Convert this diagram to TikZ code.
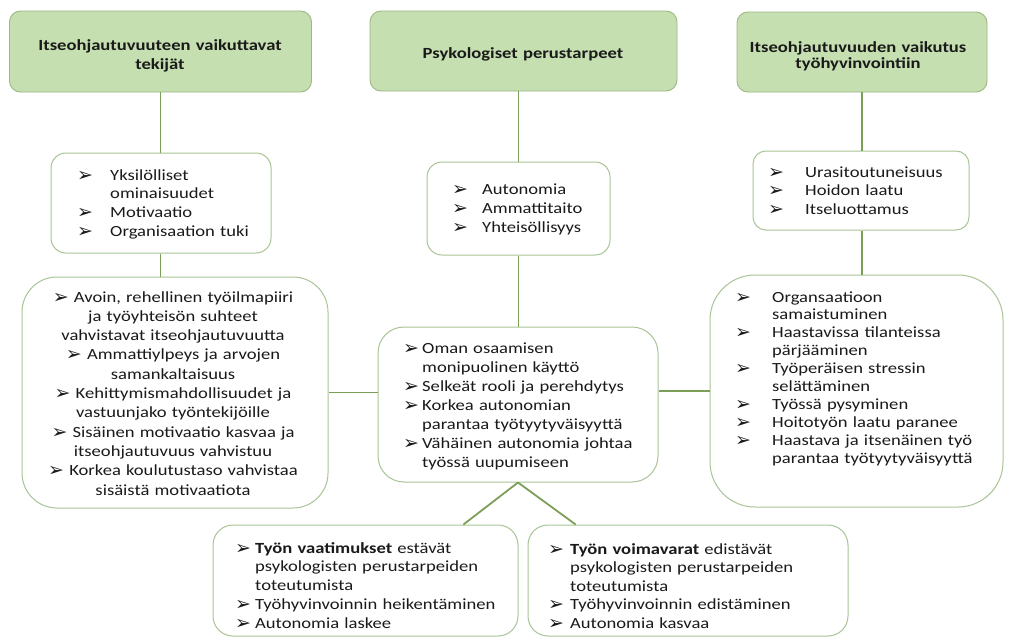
\documentclass[tikz,border=0pt]{standalone}
\usepackage{fontspec}
\setmainfont{Carlito}[FakeStretch=1.2]
\newfontfamily\arrowfont{DejaVu Sans}
\usetikzlibrary{calc}
\definecolor{hdrfill}{HTML}{C5DFB1}
\definecolor{hdrdraw}{HTML}{9DB884}
\definecolor{boxdraw}{HTML}{A9C496}
\definecolor{conn}{HTML}{7C9F58}
\definecolor{txt}{HTML}{1A1A1A}
\newcommand\arw{\raisebox{-1pt}{\fontsize{19}{19}\arrowfont\char"27A2}}
\newcommand\bu[1]{\makebox[#1pt][l]{\arw}}
\newcommand\ind[1]{\hspace*{#1pt}}
\newcommand\bc{\arw\ }
\begin{document}
\begin{tikzpicture}[x=1pt,y=-1pt,
  hdr/.style={draw=hdrdraw, fill=hdrfill, line width=0.9pt, inner sep=0pt},
  box/.style={draw=boxdraw, fill=white, line width=1pt, inner sep=0pt},
  txtl/.style={inner sep=0pt, text=txt, anchor=base west, align=left, text width=290pt},
  txtc/.style={inner sep=0pt, text=txt, anchor=base, align=center, text width=300pt},
  link/.style={draw=conn, line width=1.8pt}]
\fill[white] (0,0) rectangle (1010,640);
\useasboundingbox (0,0) rectangle (1010,640);

% header boxes
\node[hdr, rounded corners=11pt, minimum width=302pt, minimum height=81pt] (h1) at (160.5,51.5) {};
\node[hdr, rounded corners=11pt, minimum width=307pt, minimum height=80pt] (h2) at (523.5,51) {};
\node[hdr, rounded corners=11pt, minimum width=250pt, minimum height=80pt] (h3) at (862,52) {};

% second row
\node[box, rounded corners=15pt, minimum width=220pt, minimum height=100pt] (b1) at (161,203) {};
\node[box, rounded corners=15pt, minimum width=183pt, minimum height=93pt] (b2) at (518.5,208.5) {};
\node[box, rounded corners=13pt, minimum width=216pt, minimum height=79pt] (b3) at (861,190.5) {};

% third row
\node[box, rounded corners=35pt, minimum width=306pt, minimum height=231pt] (c1) at (175,392.5) {};
\node[box, rounded corners=26pt, minimum width=280pt, minimum height=155pt] (c2) at (518,404.5) {};
\node[box, rounded corners=45pt, minimum width=293pt, minimum height=232pt] (c3) at (856.5,391) {};

% bottom row
\node[box, rounded corners=20pt, minimum width=305pt, minimum height=111pt] (d1) at (365.5,580.5) {};
\node[box, rounded corners=20pt, minimum width=320pt, minimum height=111pt] (d2) at (688,580.5) {};

% connectors
\draw[link] (h1.south) -- (h1.south |- b1.north);
\draw[link] (h1.south |- b1.south) -- (h1.south |- c1.north);
\draw[link] (b2.north) -- (b2.north |- h2.south);
\draw[link] (b2.south) -- (b2.south |- c2.north);
\draw[link] (h3.south) -- (h3.south |- b3.north);
\draw[link] (h3.south |- b3.south) -- (h3.south |- c3.north);
\draw[link] (c1.east) -- (c1.east -| c2.west);
\draw[link] (c3.west) -- (c3.west -| c2.east);
\coordinate (d1top) at ($(d1.north west)!0.82!(d1.north east)$);
\coordinate (d2top) at ($(d2.north west)!0.15!(d2.north east)$);
\draw[link] (c2.south) -- (d1top);
\draw[link] (c2.south) -- (d2top);

% header texts
\node[txtc, font=\bfseries\fontsize{15.5}{19}\selectfont] (h1t) at (160,50) {Itseohjautuvuuteen vaikuttavat\\tekijät};
\node[txtc, font=\bfseries\fontsize{15.5}{19}\selectfont] (h2t) at (523,58) {Psykologiset perustarpeet};
\node[txtc, font=\bfseries\fontsize{15.5}{16}\selectfont] (h3t) at (858,52) {Itseohjautuvuuden vaikutus\\työhyvinvointiin};

% box texts
\node[txtl, font=\fontsize{15.5}{18.7}\selectfont] (b1t) at (77,180) {\bu{33}Yksilölliset\\\ind{33}ominaisuudet\\\bu{33}Motivaatio\\\bu{33}Organisaation tuki};
\node[txtl, font=\fontsize{15.5}{19}\selectfont] (b2t) at (452,194) {\bu{30}Autonomia\\\bu{30}Ammattitaito\\\bu{30}Yhteisöllisyys};
\node[txtl, font=\fontsize{15.5}{18.5}\selectfont] (b3t) at (768,177) {\bu{37}Urasitoutuneisuus\\\bu{37}Hoidon laatu\\\bu{37}Itseluottamus};

\node[txtc, font=\fontsize{15.5}{19.3}\selectfont] (c1t) at (173,302) {\bc Avoin, rehellinen työilmapiiri\\ja työyhteisön suhteet\\vahvistavat itseohjautuvuutta\\\bc Ammattiylpeys ja arvojen\\samankaltaisuus\\\bc Kehittymismahdollisuudet ja\\vastuunjako työntekijöille\\\bc Sisäinen motivaatio kasvaa ja\\itseohjautuvuus vahvistuu\\\bc Korkea koulutustaso vahvistaa\\sisäistä motivaatiota};

\node[txtl, font=\fontsize{15.5}{19}\selectfont] (c2t) at (403,353) {\bu{19}Oman osaamisen\\\ind{19}monipuolinen käyttö\\\bu{19}Selkeät rooli ja perehdytys\\\bu{19}Korkea autonomian\\\ind{19}parantaa työtyytyväisyyttä\\\bu{19}Vähäinen autonomia johtaa\\\ind{19}työssä uupumiseen};

\node[txtl, font=\fontsize{15.5}{17.9}\selectfont] (c3t) at (735,302) {\bu{37}Organsaatioon\\\ind{37}samaistuminen\\\bu{37}Haastavissa tilanteissa\\\ind{37}pärjääminen\\\bu{37}Työperäisen stressin\\\ind{37}selättäminen\\\bu{37}Työssä pysyminen\\\bu{37}Hoitotyön laatu paranee\\\bu{37}Haastava ja itsenäinen työ\\\ind{37}parantaa työtyytyväisyyttä};

\node[txtl, font=\fontsize{15.5}{18.75}\selectfont] (d1t) at (235,553) {\bu{20}\textbf{Työn vaatimukset} estävät\\\ind{20}psykologisten perustarpeiden\\\ind{20}toteutumista\\\bu{20}Työhyvinvoinnin heikentäminen\\\bu{20}Autonomia laskee};
\node[txtl, font=\fontsize{15.5}{18.5}\selectfont] (d2t) at (548,554) {\bu{22}\textbf{Työn voimavarat} edistävät\\\ind{22}psykologisten perustarpeiden\\\ind{22}toteutumista\\\bu{22}Työhyvinvoinnin edistäminen\\\bu{22}Autonomia kasvaa};
\end{tikzpicture}
\end{document}
